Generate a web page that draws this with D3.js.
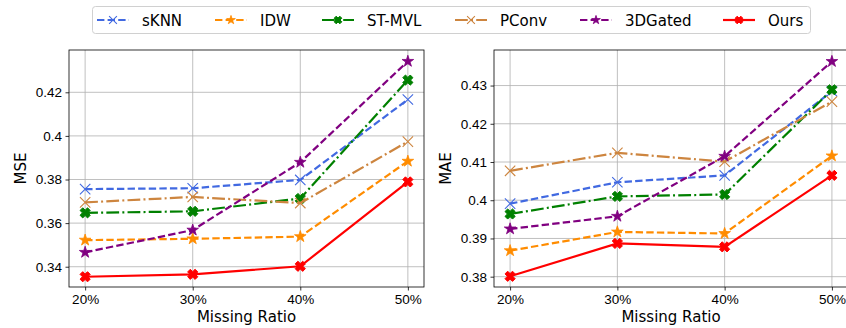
<!DOCTYPE html>
<html>
<head>
<meta charset="utf-8">
<script src="https://cdn.jsdelivr.net/npm/d3@7"></script>
<style>
  body { margin: 0; background: #fff; }
  svg { display: block; font-family: "DejaVu Sans", sans-serif; }
</style>
</head>
<body>
<div id="chart"></div>
<script>
// missing ratios on the x axis
var ratios = ["20%", "30%", "40%", "50%"];
var methods = ["sKNN", "IDW", "ST-MVL", "PConv", "3DGated", "Ours"];

// MSE per method (left panel)
var mseSKNN    = [0.3756, 0.3760, 0.3798, 0.4167];
var mseIDW     = [0.3522, 0.3528, 0.3538, 0.3884];
var mseSTMVL   = [0.3647, 0.3654, 0.3713, 0.4256];
var msePConv   = [0.3695, 0.3720, 0.3692, 0.3974];
var mse3DGated = [0.3466, 0.3568, 0.3879, 0.4342];
var mseOurs    = [0.3354, 0.3365, 0.3402, 0.3789];

// MAE per method (right panel)
var maeSKNN    = [0.3991, 0.4047, 0.4065, 0.4285];
var maeIDW     = [0.3868, 0.3917, 0.3913, 0.4116];
var maeSTMVL   = [0.3964, 0.4010, 0.4015, 0.4289];
var maePConv   = [0.4077, 0.4124, 0.4101, 0.4258];
var mae3DGated = [0.3925, 0.3958, 0.4115, 0.4363];
var maeOurs    = [0.3801, 0.3887, 0.3878, 0.4065];

var mseTicks = [0.34, 0.36, 0.38, 0.40, 0.42];
var maeTicks = [0.38, 0.39, 0.40, 0.41, 0.42, 0.43];

var styles = {
    "sKNN":    {color: "#4169e1", dash: "7.4,3.2", marker: "x"},
    "IDW":     {color: "#ff8c00", dash: "7.4,3.2", marker: "star"},
    "ST-MVL":  {color: "#008000", dash: "12.8,3.2,2,3.2", marker: "X"},
    "PConv":   {color: "#cd853f", dash: "12.8,3.2,2,3.2", marker: "x"},
    "3DGated": {color: "#800080", dash: "7.4,3.2", marker: "star"},
    "Ours":    {color: "#ff0000", dash: null, marker: "X"}
};

var W = 846, H = 328;
var svg = d3.select("#chart").append("svg")
    .attr("width", W).attr("height", H);

function fmt(v){
    var s = d3.format(".2f")(v);
    return s.replace(/0$/, "");
}

// filled X marker like matplotlib 'X'
function bigX(r){
    var w = r * 0.36, p = [];
    var pts = [[-w, -r], [w, -r], [w, -w], [r, -w], [r, w], [w, w], [w, r], [-w, r], [-w, w], [-r, w], [-r, -w], [-w, -w]];
    var c = Math.SQRT1_2;
    pts.forEach(function(q){ p.push([(q[0] - q[1]) * c, (q[0] + q[1]) * c]); });
    return "M" + p.map(function(q){ return q.join(","); }).join("L") + "Z";
}

function drawMarker(g, type, color, x, y, sc){
    sc = sc || 1;
    if (type == "x") {
        var r = 5.2 * sc;
        g.append("path")
            .attr("d", "M" + (x - r) + "," + (y - r) + "L" + (x + r) + "," + (y + r) +
                       "M" + (x - r) + "," + (y + r) + "L" + (x + r) + "," + (y - r))
            .attr("stroke", color).attr("stroke-width", 1.1).attr("fill", "none");
    } else if (type == "star") {
        g.append("path")
            .attr("d", d3.symbol().type(d3.symbolStar).size(42 * sc * sc)())
            .attr("transform", "translate(" + x + "," + y + ")")
            .attr("fill", color).attr("stroke", color).attr("stroke-width", 0.8);
    } else {
        g.append("path")
            .attr("d", bigX(5.3 * sc))
            .attr("transform", "translate(" + x + "," + y + ")")
            .attr("fill", color).attr("stroke", color).attr("stroke-width", 1);
    }
}

function panel(left, right, top, bottom, yDomain, ticks, series, ylabel, ylabelX){
    var x = d3.scaleLinear().domain([-0.15, 3.15]).range([left, right]);
    var y = d3.scaleLinear().domain(yDomain).range([bottom, top]);
    var g = svg.append("g");

    // grid
    g.append("g").selectAll("line.gx").data(ratios).enter().append("line")
        .attr("x1", function(d, i){ return x(i); }).attr("x2", function(d, i){ return x(i); })
        .attr("y1", top).attr("y2", bottom)
        .attr("stroke", "#b0b0b0").attr("stroke-width", 0.8);
    g.append("g").selectAll("line.gy").data(ticks).enter().append("line")
        .attr("x1", left).attr("x2", right)
        .attr("y1", function(d){ return y(d); }).attr("y2", function(d){ return y(d); })
        .attr("stroke", "#b0b0b0").attr("stroke-width", 0.8);

    var line = d3.line()
        .x(function(d, i){ return x(i); })
        .y(function(d){ return y(d); });

    methods.forEach(function(m, k){
        var st = styles[m];
        var s = g.append("g");
        s.append("path")
            .attr("d", line(series[k]))
            .attr("fill", "none")
            .attr("stroke", st.color)
            .attr("stroke-width", 2.2)
            .attr("stroke-dasharray", st.dash);
        series[k].forEach(function(v, i){
            drawMarker(s, st.marker, st.color, x(i), y(v));
        });
    });

    // axes
    var ax = g.append("g")
        .attr("transform", "translate(0," + bottom + ")")
        .call(d3.axisBottom(x).tickValues([0, 1, 2, 3]).tickSize(3.5).tickPadding(3.5)
              .tickFormat(function(d){ return ratios[d]; }));
    var ay = g.append("g")
        .attr("transform", "translate(" + left + ",0)")
        .call(d3.axisLeft(y).tickValues(ticks).tickSize(3.5).tickPadding(3.5).tickFormat(fmt));
    [ax, ay].forEach(function(a){
        a.select(".domain").remove();
        a.selectAll("text").style("font-size", "13.5px").attr("fill", "#000");
        a.selectAll("line").attr("stroke", "#000").attr("stroke-width", 0.8);
    });

    g.append("rect")
        .attr("x", left).attr("y", top)
        .attr("width", right - left).attr("height", bottom - top)
        .attr("fill", "none").attr("stroke", "#000").attr("stroke-width", 0.8);

    g.append("text")
        .attr("transform", "translate(" + ylabelX + "," + ((top + bottom) / 2) + ") rotate(-90)")
        .attr("text-anchor", "middle")
        .style("font-size", "15px")
        .text(ylabel);
    g.append("text")
        .attr("x", (left + right) / 2).attr("y", 322)
        .attr("text-anchor", "middle")
        .style("font-size", "15px")
        .text("Missing Ratio");
}

panel(69, 424, 50, 287, [0.3307, 0.4394], mseTicks,
      [mseSKNN, mseIDW, mseSTMVL, msePConv, mse3DGated, mseOurs], "MSE", 26);
panel(494, 848, 50, 287, [0.3773, 0.4393], maeTicks,
      [maeSKNN, maeIDW, maeSTMVL, maePConv, mae3DGated, maeOurs], "MAE", 451);

// legend
var leg = svg.append("g");
leg.append("rect")
    .attr("x", 92.5).attr("y", 6.5).attr("width", 718).attr("height", 27)
    .attr("rx", 3).attr("fill", "#fff").attr("fill-opacity", 0.8)
    .attr("stroke", "#d0d0d0").attr("stroke-width", 1);
var legX = [97, 215, 322, 455, 580, 723];
methods.forEach(function(m, k){
    var st = styles[m];
    var x0 = legX[k], yy = 20;
    leg.append("line")
        .attr("x1", x0).attr("x2", x0 + 32).attr("y1", yy).attr("y2", yy)
        .attr("stroke", st.color).attr("stroke-width", 2.2)
        .attr("stroke-dasharray", st.dash);
    drawMarker(leg, st.marker, st.color, x0 + 16, yy, 0.75);
    leg.append("text")
        .attr("x", x0 + 45).attr("y", yy + 5.5)
        .style("font-size", "15px")
        .text(m);
});
</script>
</body>
</html>
